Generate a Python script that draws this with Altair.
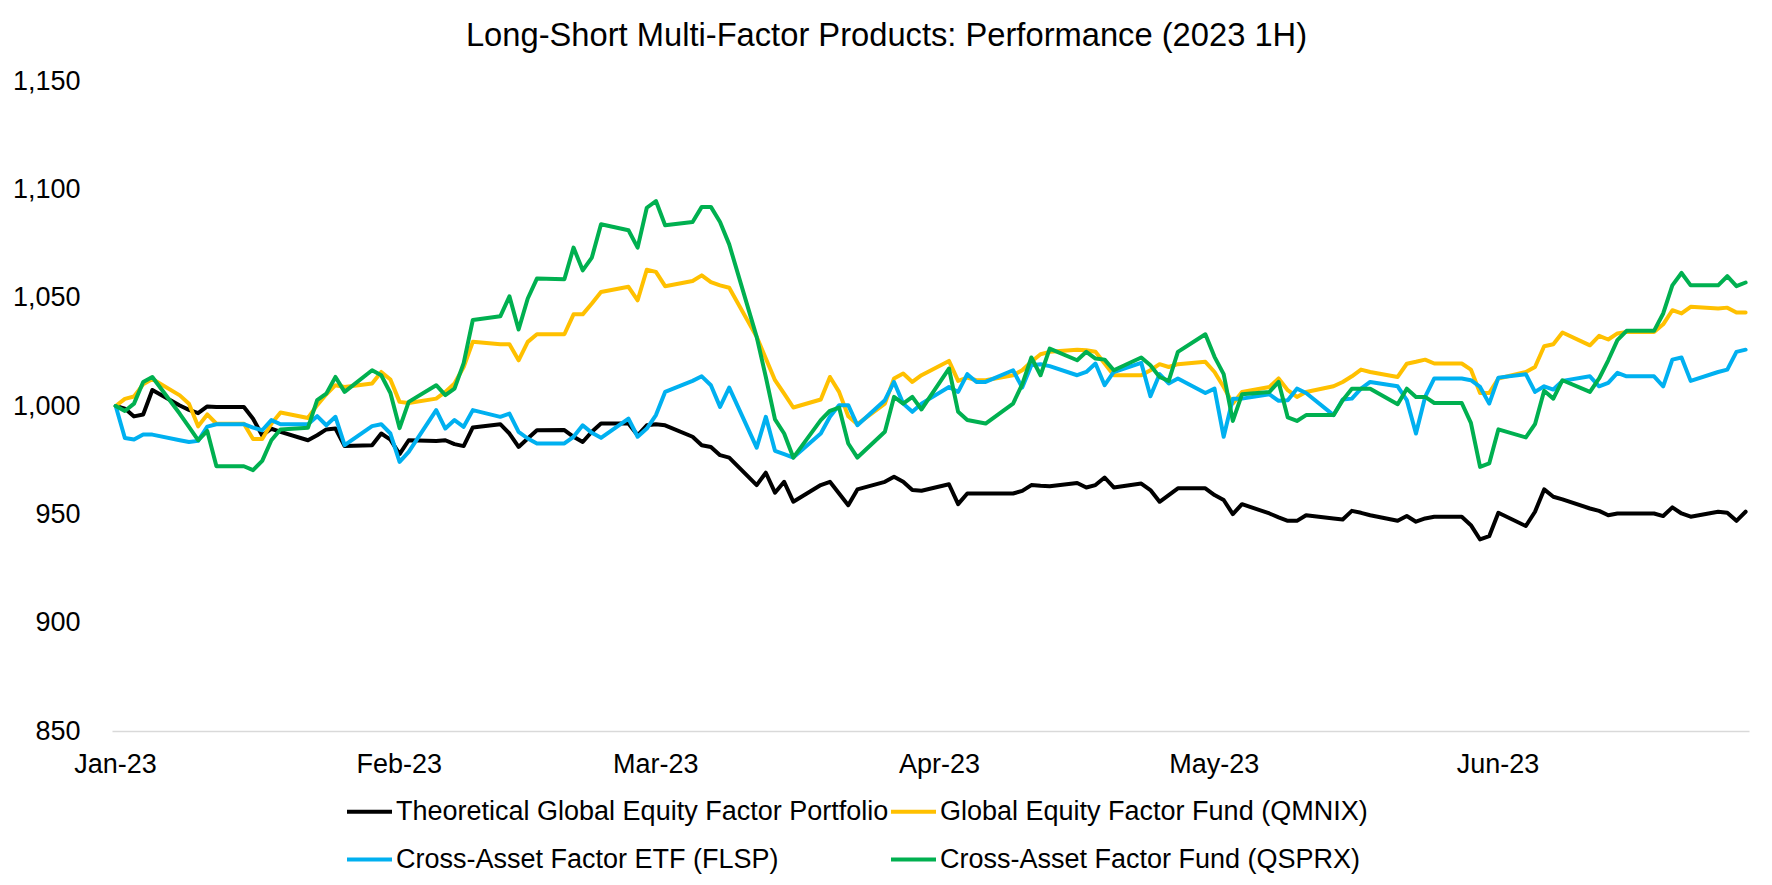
import altair as alt
import pandas as pd

TITLE = "Long-Short Multi-Factor Products: Performance (2023 1H)"
SERIES = [
    "Theoretical Global Equity Factor Portfolio",
    "Global Equity Factor Fund (QMNIX)",
    "Cross-Asset Factor ETF (FLSP)",
    "Cross-Asset Factor Fund (QSPRX)",
]
COLORS = ["#000000", "#FFC000", "#00B0F0", "#00B050"]

# weekdays from 2 Jan 2023 to 29 Jun 2023
DATES = pd.bdate_range("2023-01-02", "2023-06-29")

THEORETICAL = [
    # Jan
    1000, 998.8, 995.2, 996.1, 1007.4, 1000.2, 998.2, 996.7, 999.8, 999.5, 999.5,
    994.1, 986.4, 989.5, 988.1, 984.2, 986.5, 989.2, 989.6, 981.5, 981.9, 987.3,
    # Feb
    984.5, 977.8, 984.2, 983.9, 984.2, 982.4, 981.5, 990.1, 991.6, 987.3, 981.1,
    985, 988.8, 988.9, 985.8, 983.4, 988.1, 991.9, 991.9, 986.5,
    # Mar
    991.1, 991.6, 991.1, 985.8, 981.9, 981.1, 977.3, 976.2, 963.5, 969.2, 960,
    965, 955.8, 963.5, 965, 959.6, 954.2, 961.5, 965, 967.3, 965, 961.2, 960.9,
    # Apr
    963.9, 954.7, 959.6, 959.6, 959.6, 959.6, 960.8, 963.5, 963.2, 963, 964.5,
    962.4, 963.5, 967, 962.4, 964.2, 961.2, 955.8, 958.9, 962,
    # May
    962, 958.9, 956.6, 950.1, 954.7, 950.4, 948.6, 947, 947, 949.6, 948.1,
    947.6, 951.6, 950.7, 949.6, 947, 949.2, 946.6, 948.1, 948.9, 948.9, 945, 938.4,
    # Jun
    939.9, 950.7, 944.6, 951.2, 961.5, 958.1, 956.9, 952.7, 951.6, 949.6, 950.4,
    950.4, 950.4, 949.2, 953.2, 950.4, 948.9, 951.2, 950.7, 947, 951.2,
]

QMNIX = [
    # Jan
    1000, 1003.3, 1004.4, 1010, 1012.5, 1004.9, 1001, 990.6, 996.1, 991.8, 991.8,
    984.8, 984.8, 991.8, 997, 994.5, 1000.4, 1005.4, 1009.6, 1008.8, 1010.4, 1015.7,
    # Feb
    1012.2, 1001.9, 1001.4, 1003.4, 1006.5, 1010.4, 1018, 1029.6, 1028.5, 1028.5,
    1021.1, 1029.6, 1033.1, 1033.1, 1042.3, 1042.3, 1047.3, 1052.6, 1055, 1048.8,
    # Mar
    1062.9, 1061.9, 1055.3, 1057.7, 1060.3, 1057.2, 1055.7, 1054.6, 1031.9, 1021.9,
    1011.9, 1005.7, 999.3, 1003, 1013.4, 1006.5, 995.3, 991.6, 1001.1, 1012.7,
    1015, 1011.1, 1014.2,
    # Apr
    1020.8, 1011.6, 1013.1, 1011.9, 1011.9, 1014.2, 1016.5, 1020.4, 1023.9, 1025,
    1026, 1025.7, 1025, 1019.6, 1014.2, 1014.2, 1016.5, 1019.3, 1018, 1019.3,
    # May
    1020.4, 1015.7, 1008.8, 1001.1, 1006.5, 1008.8, 1012.7, 1007.3, 1004.2, 1006.5,
    1009.1, 1011.1, 1013.7, 1016.8, 1015.7, 1013.4, 1019.5, 1020.4, 1021.4, 1019.6,
    1019.6, 1016.8, 1006,
    # Jun
    1006, 1012.7, 1015.7, 1018, 1027.6, 1028.5, 1033.9, 1028, 1032.4, 1030.7,
    1033.5, 1034.2, 1034.2, 1037.7, 1044.2, 1042.7, 1045.8, 1045, 1045.4, 1043.1, 1043.1,
]

FLSP = [
    # Jan
    1000, 985.2, 984.5, 986.8, 986.8, 984.2, 983.4, 983.9, 990.5, 991.6, 991.6,
    990, 988.8, 993.5, 991.6, 991.6, 995.3, 991.1, 995, 981.9, 990.7, 991.6,
    # Feb
    987.3, 974.2, 978.8, 998.1, 989.6, 993.5, 990.4, 998.1, 995, 996.5, 988.1,
    985, 982.7, 982.7, 985.8, 991.1, 987.6, 985.3, 994.2, 985.8,
    # Mar
    989.6, 995.8, 1006.5, 1011.6, 1013.7, 1009.6, 999.6, 1008.5, 980.8, 995,
    979.3, 977.8, 976.2, 987.3, 995, 1000.4, 1000.4, 991.1, 1002.7, 1011.1,
    1001.1, 997.3, 1001.1,
    # Apr
    1008.8, 1006.5, 1014.7, 1011.1, 1011.1, 1016.5, 1008.5, 1018.8, 1019.3, 1018.4,
    1014.2, 1015.7, 1019.6, 1009.6, 1015.7, 1019.9, 1004.5, 1014.7, 1010.4, 1012.7,
    # May
    1006, 1008, 985.8, 1003.4, 1003.4, 1005.4, 1002.4, 1002.7, 1008, 1006,
    995.8, 1003, 1003.4, 1008, 1011.1, 1009.1, 1002.7, 987.3, 1004.2, 1012.7,
    1012.7, 1011.9, 1008.8,
    # Jun
    1001.1, 1013.1, 1014.7, 1006.5, 1009.1, 1007.6, 1011.6, 1013.7, 1009.1, 1010.7,
    1015.3, 1013.7, 1013.7, 1009.1, 1021.4, 1022.4, 1011.6, 1015.7, 1016.8, 1025, 1026,
]

QSPRX = [
    # Jan
    1000, 997.7, 1001.1, 1011.1, 1013.4, 996.4, 990.4, 984.2, 988.5, 972.2, 972.2,
    970.4, 974.7, 984.2, 989.2, 990, 1002.7, 1005.7, 1013.4, 1006.5, 1016.5, 1014.2,
    # Feb
    1006, 989.8, 1001.9, 1009.6, 1005, 1008, 1019.8, 1039.7, 1041.4, 1050.6,
    1035.3, 1049.6, 1058.8, 1058.5, 1073.1, 1062.6, 1068.5, 1083.9, 1081.1, 1073.1,
    # Mar
    1091.5, 1094.6, 1083.4, 1084.9, 1091.9, 1091.9, 1084.9, 1074.6, 1031.9, 1013.4,
    993.8, 987.3, 976.2, 993.5, 997.8, 999.3, 982.7, 976.2, 988.1, 1004.2,
    1001.1, 1004.2, 998.4,
    # Apr
    1017.3, 997.3, 993.5, 992.7, 991.9, 1001.1, 1010, 1022.4, 1014.2, 1026.5,
    1021.1, 1025, 1021.9, 1021.4, 1016.5, 1022.4, 1018.8, 1013.4, 1011.6, 1025,
    # May
    1033.1, 1022.7, 1014.7, 993.1, 1005.4, 1006.5, 1011.1, 994.7, 993.1, 995.8,
    995.8, 1002.7, 1008, 1008, 1008, 1000.8, 1008, 1004.2, 1004.2, 1001.4,
    1001.4, 992.2, 971.9,
    # Jun
    973.5, 989.2, 985.5, 991.6, 1007, 1003.4, 1011.9, 1006.5, 1012.7, 1021.1,
    1030.4, 1034.7, 1034.7, 1042.7, 1055.7, 1061.4, 1055.7, 1055.7, 1059.9, 1055.3, 1057,
]

Y_TICKS = [850, 900, 950, 1000, 1050, 1100, 1150]
X_TICK_MONTHS = [1, 2, 3, 4, 5, 6]

FONT = "Liberation Sans"

rows = []
for name, vals in zip(SERIES, [THEORETICAL, QMNIX, FLSP, QSPRX]):
    assert len(vals) == len(DATES), (name, len(vals), len(DATES))
    for d, v in zip(DATES, vals):
        rows.append({"date": d.strftime("%Y-%m-%dT00:00:00Z"), "series": name, "value": v})
df = pd.DataFrame(rows)

x_domain = [
    alt.DateTime(year=2023, month=1, date=1, hours=14, minutes=18, utc=True),
    alt.DateTime(year=2023, month=6, date=29, hours=8, minutes=54, utc=True),
]
x_ticks = [alt.DateTime(year=2023, month=m, date=1, hours=22, utc=True) for m in X_TICK_MONTHS]

chart = (
    alt.Chart(df)
    .mark_line(strokeWidth=4, strokeJoin="round", strokeCap="round", clip=False)
    .encode(
        x=alt.X(
            "date:T",
            scale=alt.Scale(type="utc", domain=x_domain),
            axis=alt.Axis(
                values=x_ticks,
                labelExpr="utcFormat(datum.value, '%b-%y')",
                title=None,
                grid=False,
                ticks=False,
                domain=True,
                domainColor="#D9D9D9",
                domainWidth=1.5,
                labelFont=FONT,
                labelFontSize=27,
                labelColor="#000000",
                labelPadding=20,
                labelFlush=False,
                labelOverlap=False,
            ),
        ),
        y=alt.Y(
            "value:Q",
            scale=alt.Scale(domain=[850, 1150], nice=False, zero=False),
            axis=alt.Axis(
                values=Y_TICKS,
                labelExpr="format(datum.value, ',.0f')",
                title=None,
                grid=False,
                ticks=False,
                domain=False,
                labelFont=FONT,
                labelFontSize=27,
                labelColor="#000000",
                labelPadding=32,
            ),
        ),
        color=alt.Color(
            "series:N",
            scale=alt.Scale(domain=SERIES, range=COLORS),
            legend=alt.Legend(
                title=None,
                orient="none",
                direction="horizontal",
                legendX=233,
                legendY=706,
                columns=2,
                symbolType="stroke",
                symbolSize=2025,
                symbolStrokeWidth=4,
                labelFont=FONT,
                labelFontSize=27,
                labelColor="#000000",
                labelOffset=2,
                labelLimit=0,
                rowPadding=10,
                columnPadding=-8,
                padding=0,
            ),
        ),
    )
    .properties(
        width=1637,
        height=650,
        autosize=alt.AutoSizeParams(type="none"),
        padding={"left": 104, "top": 73, "right": 12, "bottom": 143},
        title=alt.TitleParams(
            TITLE,
            font=FONT,
            fontSize=32.7,
            fontWeight="normal",
            color="#000000",
            anchor="middle",
            offset=14,
            dx=-44,
        ),
        background="white",
    )
    .configure_view(strokeWidth=0)
)

chart.save("out.html", embed_options={"renderer": "svg", "actions": False})
